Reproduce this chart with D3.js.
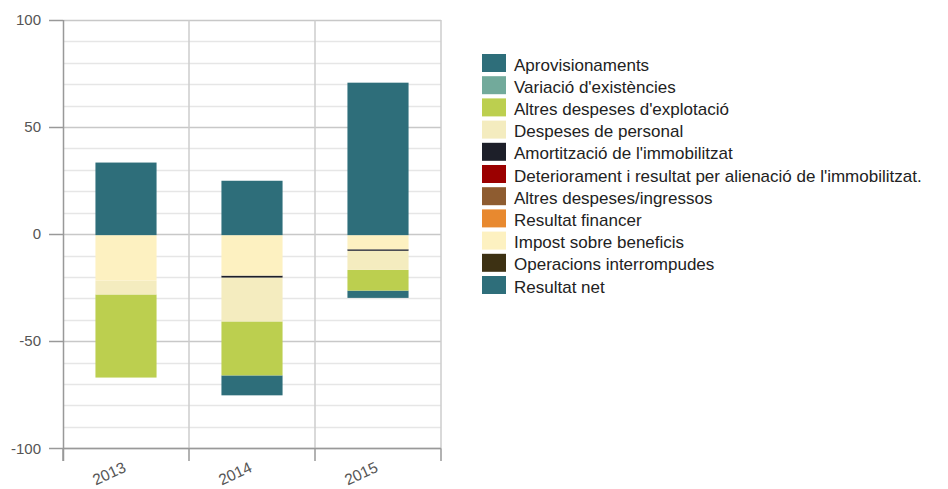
<!DOCTYPE html>
<html>
<head>
<meta charset="utf-8">
<script src="https://cdn.jsdelivr.net/npm/d3@7"></script>
<style>
  body { margin: 0; background: #fff; }
  svg { font-family: "Liberation Sans", Arial, sans-serif; }
</style>
</head>
<body>
<div id="chart"></div>
<script>
var years = ["2013", "2014", "2015"];

var seriesNames = [
    "Aprovisionaments",
    "Variació d'existències",
    "Altres despeses d'explotació",
    "Despeses de personal",
    "Amortització de l'immobilitzat",
    "Deteriorament i resultat per alienació de l'immobilitzat.",
    "Altres despeses/ingressos",
    "Resultat financer",
    "Impost sobre beneficis",
    "Operacions interrompudes",
    "Resultat net"
];

var seriesColors = [
    "#2e6e7a", "#72aa9b", "#bccf4f", "#f4ecbf", "#1d1f29", "#9b0000",
    "#8e5c30", "#e8892f", "#fdf1c1", "#3d3113", "#2e6e7a"
];

// one value per year, in the order of years
var aprovisionaments = [0, -9.3, -3.4];
var variacioExistencies = [0, 0, 0];
var altresDespesesExplotacio = [-38.8, -25.2, -9.7];
var despesesPersonal = [-6.5, -20.5, -8.9];
var amortitzacio = [0, -0.9, -0.7];
var deteriorament = [0, 0, 0];
var altresDespesesIngressos = [0, 0, 0];
var resultatFinancer = [0, 0, 0];
var impostBeneficis = [-21.2, -18.9, -6.6];
var operacionsInterrompudes = [0, 0, 0];
var resultatNet = [33.9, 25.4, 71.2];

var yTicks = [100, 50, 0, -50, -100];

var seriesValues = [
    aprovisionaments, variacioExistencies, altresDespesesExplotacio,
    despesesPersonal, amortitzacio, deteriorament, altresDespesesIngressos,
    resultatFinancer, impostBeneficis, operacionsInterrompudes, resultatNet
];

var width = 948,
    height = 489;

var table = years.map(function (y, i) {
    var row = { year: y };
    seriesNames.forEach(function (name, k) { row[name] = seriesValues[k][i]; });
    return row;
});

var svg = d3.select("#chart")
    .append("svg")
    .attr("width", width)
    .attr("height", height);

var x = d3.scaleBand()
    .domain(years)
    .range([63, 441]);

var y = d3.scaleLinear()
    .domain([-100, 100])
    .range([448.3, 20]);

/* ------- GRID -------*/
var grid = svg.append("g").attr("class", "grid");

grid.selectAll("line.minor")
    .data(d3.range(-100, 101, 10).filter(function (v) { return v % 50 !== 0; }))
    .enter().append("line")
    .attr("x1", 63).attr("x2", 441)
    .attr("y1", function (d) { return Math.round(y(d)) + 0.5; })
    .attr("y2", function (d) { return Math.round(y(d)) + 0.5; })
    .attr("stroke", "#e6e6e6")
    .attr("stroke-width", 1.5);

grid.selectAll("line.major")
    .data(yTicks)
    .enter().append("line")
    .attr("x1", 63).attr("x2", 441)
    .attr("y1", function (d) { return Math.round(y(d)) + 0.5; })
    .attr("y2", function (d) { return Math.round(y(d)) + 0.5; })
    .attr("stroke", "#c8c8c8")
    .attr("stroke-width", 1.5);

grid.selectAll("line.vert")
    .data(years)
    .enter().append("line")
    .attr("x1", function (d) { return x(d) + x.bandwidth(); })
    .attr("x2", function (d) { return x(d) + x.bandwidth(); })
    .attr("y1", y(100)).attr("y2", y(-100))
    .attr("stroke", "#cccccc")
    .attr("stroke-width", 1.5);

/* ------- BARS -------*/
// reverse order: the last series sits next to zero, as in the original
var stack = d3.stack()
    .keys(seriesNames)
    .order(d3.stackOrderReverse)
    .offset(d3.stackOffsetDiverging);

var stacked = stack(table);
var barW = x.bandwidth() * 0.485;

svg.append("g").attr("class", "bars")
    .selectAll("g")
    .data(stacked)
    .enter().append("g")
    .attr("fill", function (d) { return seriesColors[seriesNames.indexOf(d.key)]; })
    .selectAll("rect")
    .data(function (d) { return d; })
    .enter().append("rect")
    .attr("x", function (d) { return x(d.data.year) + (x.bandwidth() - barW) / 2; })
    .attr("width", barW)
    .attr("y", function (d) { return y(Math.max(d[0], d[1])) + 1; })
    .attr("height", function (d) { return Math.abs(y(d[0]) - y(d[1])); });

/* ------- AXES -------*/
var yAxis = svg.append("g").attr("class", "y-axis");
yAxis.append("line")
    .attr("x1", 63.5).attr("x2", 63.5)
    .attr("y1", y(100)).attr("y2", 461)
    .attr("stroke", "#999").attr("stroke-width", 1.5);

yAxis.selectAll("line.tick")
    .data(yTicks)
    .enter().append("line")
    .attr("x1", 49).attr("x2", 63)
    .attr("y1", function (d) { return Math.round(y(d)) + 0.5; })
    .attr("y2", function (d) { return Math.round(y(d)) + 0.5; })
    .attr("stroke", "#999").attr("stroke-width", 1.5);

yAxis.selectAll("text")
    .data(yTicks)
    .enter().append("text")
    .attr("x", 41)
    .attr("y", function (d) { return y(d); })
    .attr("dy", "0.35em")
    .attr("text-anchor", "end")
    .attr("fill", "#555")
    .style("font-size", "15px")
    .text(function (d) { return d; });

var xAxis = svg.append("g").attr("class", "x-axis");
xAxis.append("line")
    .attr("x1", 63).attr("x2", 441)
    .attr("y1", Math.round(y(-100)) + 0.5).attr("y2", Math.round(y(-100)) + 0.5)
    .attr("stroke", "#999").attr("stroke-width", 1.5);

xAxis.selectAll("line.tick")
    .data([63].concat(years.map(function (d) { return x(d) + x.bandwidth(); })))
    .enter().append("line")
    .attr("x1", function (d) { return d; })
    .attr("x2", function (d) { return d; })
    .attr("y1", y(-100)).attr("y2", 461)
    .attr("stroke", "#999").attr("stroke-width", 1.5);

xAxis.selectAll("text")
    .data(years)
    .enter().append("text")
    .attr("transform", function (d) {
        return "translate(" + (x(d) + x.bandwidth() / 2 + 1) + ",471) rotate(-25)";
    })
    .attr("text-anchor", "end")
    .attr("fill", "#555")
    .style("font-size", "15.5px")
    .text(function (d) { return d; });

/* ------- LEGEND -------*/
var legend = svg.append("g")
    .attr("class", "legend")
    .attr("transform", "translate(482,54)");

var item = legend.selectAll("g")
    .data(seriesNames)
    .enter().append("g")
    .attr("transform", function (d, i) { return "translate(0," + (i * 22.2) + ")"; });

item.append("rect")
    .attr("width", 24)
    .attr("height", 18)
    .attr("fill", function (d, i) { return seriesColors[i]; });

item.append("text")
    .attr("x", 32)
    .attr("y", 16.5)
    .attr("fill", "#222")
    .style("font-size", "17px")
    .text(function (d) { return d; });
</script>
</body>
</html>
